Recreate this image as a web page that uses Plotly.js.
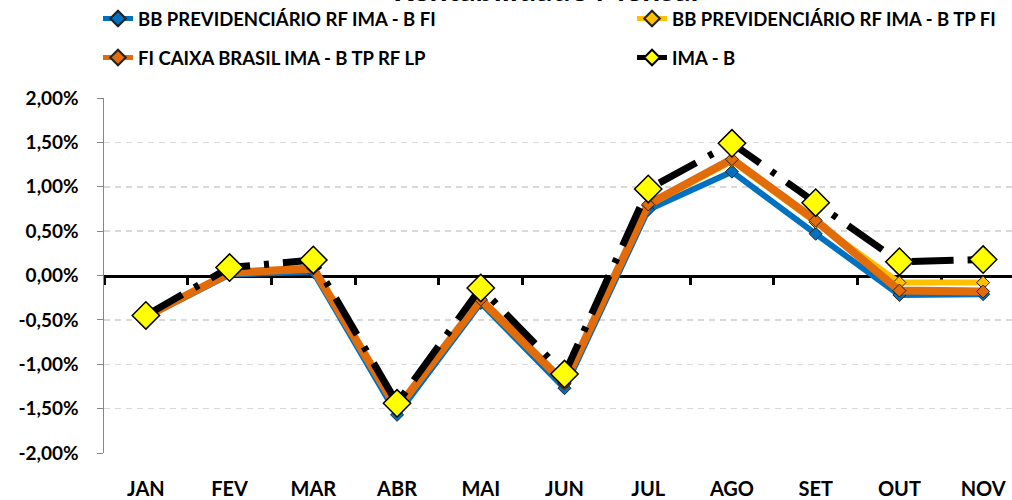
<!DOCTYPE html>
<html><head><meta charset="utf-8">
<script src="https://cdn.plot.ly/plotly-3.0.1.min.js"></script>
<style>html,body{margin:0;padding:0;overflow:hidden;background:#fff}#c{width:1025px;height:500px}</style>
</head><body><div id="c"></div>
<script>
const months = ["JAN","FEV","MAR","ABR","MAI","JUN","JUL","AGO","SET","OUT","NOV"];
const bbFI   = [-0.47, 0.01, 0.04, -1.57, -0.31, -1.27, 0.74, 1.17, 0.47, -0.22, -0.21];
const bbTP   = [-0.46, 0.03, 0.07, -1.52, -0.28, -1.22, 0.79, 1.29, 0.60, -0.08, -0.08];
const caixa  = [-0.46, 0.03, 0.08, -1.50, -0.27, -1.21, 0.80, 1.31, 0.62, -0.17, -0.18];
const imab   = [-0.45, 0.09, 0.175, -1.44, -0.14, -1.11, 0.975, 1.49, 0.82, 0.155, 0.18];
const names = ["BB PREVIDENCIÁRIO RF IMA - B FI","BB PREVIDENCIÁRIO RF IMA - B TP FI","FI CAIXA BRASIL IMA - B TP RF LP","IMA - B"];
const yTicks = [-2,-1.5,-1,-0.5,0,0.5,1,1.5,2];
const yTickText = yTicks.map(v => v.toFixed(2).replace('.', ',') + '%');

const FONT = "Lato, 'Open Sans', sans-serif";
const mk = (y, name, color, w, legend) => ({
  x: months, y: y, name: name, type: 'scatter', mode: 'lines+markers',
  line: {color: color, width: w},
  marker: {symbol: 'diamond', size: 10, color: color, line: {color: '#222', width: 1}},
  legend: legend, cliponaxis: false
});
const traces = [
  mk(bbFI, names[0], '#0070c0', 6, 'legend'),
  mk(bbTP, names[1], '#ffc000', 6, 'legend2'),
  mk(caixa, names[2], '#e36c0a', 8, 'legend3'),
  {x: months, y: imab, name: names[3], type: 'scatter', mode: 'lines+markers',
   line: {color: '#000', width: 7, dash: '42px,14px,5px,14px'},
   marker: {symbol: 'diamond', size: 21, color: '#ffff00', line: {color: '#000', width: 1.5}},
   legend: 'legend4', cliponaxis: false},
  {x: [-0.5, 10.5], y: [null, null], xaxis: 'x2', showlegend: false, hoverinfo: 'skip', type: 'scatter'}
];
const legFont = {family: FONT, size: 18.5, color: '#000', weight: 'bold'};
const leg = (x, y) => ({orientation: 'h', xref: 'container', yref: 'container', x: x, y: y,
  xanchor: 'left', yanchor: 'middle', font: legFont, itemsizing: 'constant', bgcolor: 'rgba(0,0,0,0)', borderwidth: 0});
const layout = {
  width: 1025, height: 500,
  margin: {l: 104, r: 0, t: 98, b: 47, autoexpand: false},
  paper_bgcolor: '#fff', plot_bgcolor: '#fff',
  showlegend: true,
  legend: leg(0.0956, 0.962),
  legend2: leg(0.6166, 0.962),
  legend3: leg(0.0956, 0.884),
  legend4: leg(0.6166, 0.884),
  annotations: [{text: 'Rentabilidade Mensal', xref: 'paper', yref: 'paper', x: 0.48, y: 1.2465,
    xanchor: 'center', yanchor: 'bottom', showarrow: false,
    font: {family: FONT, size: 32, color: '#000', weight: 'bold'}}],
  xaxis: {type: 'category', range: [-0.5, 10.5], showgrid: false, zeroline: false, showline: false,
    ticks: '', ticklabelstandoff: 22, tickfont: {family: FONT, size: 20, color: '#000', weight: 'bold'}, fixedrange: true},
  xaxis2: {overlaying: 'x', anchor: 'free', position: 0.5, range: [-0.5, 10.5], showgrid: false, zeroline: false,
    showline: true, linecolor: '#000', linewidth: 3, ticks: 'outside', ticklen: 7, tickwidth: 3, tickcolor: '#000',
    tickvals: [-0.5,0.5,1.5,2.5,3.5,4.5,5.5,6.5,7.5,8.5,9.5,10.5], showticklabels: false, layer: 'below traces'},
  yaxis: {range: [-2, 2], tickvals: yTicks, ticktext: yTickText,
    showgrid: true, gridcolor: '#d9d9d9', griddash: '6px,5px', gridwidth: 1.5,
    zeroline: false, showline: true, linecolor: '#868686', linewidth: 1.5,
    ticks: 'outside', ticklen: 6, tickcolor: '#868686', ticklabelstandoff: 14,
    tickfont: {family: FONT, size: 19, color: '#000', weight: 'bold'}, fixedrange: true}
};
Plotly.newPlot('c', traces, layout, {displayModeBar: false, staticPlot: true});
</script></body></html>
